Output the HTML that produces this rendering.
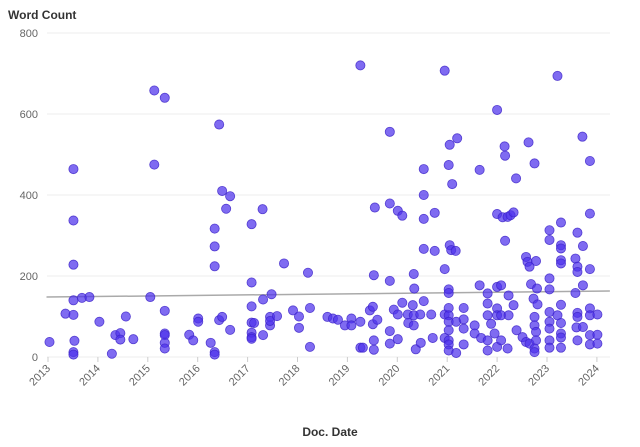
<!DOCTYPE html>
<html><head><meta charset="utf-8"><style>
html,body{margin:0;padding:0;background:#fff;}
svg{display:block;font-family:"Liberation Sans",sans-serif;}
</style></head><body>
<svg id="chart" width="640" height="447" viewBox="0 0 640 447">
<text x="8" y="19" font-size="12" font-weight="bold" fill="#333">Word Count</text>
<text x="330" y="436" font-size="12" font-weight="bold" fill="#333" text-anchor="middle">Doc. Date</text>
<g id="grid"></g><g id="yticks"></g><g id="xticks"></g><g id="trend"></g><g id="points"></g>
</svg>
<script>
const yTicks = [0,200,400,600,800];
const xTicks = [2013,2014,2015,2016,2017,2018,2019,2020,2021,2022,2023,2024];
const trendYears = [2012.97, 2024.26];
const trendValues = [148, 163];
const dates = [2013.03,2013.35,2013.51,2013.51,2013.51,2013.51,2013.51,2013.53,2013.51,2013.51,2013.68,2013.83,2014.03,2014.28,2014.35,2014.45,2014.45,2014.56,2014.71,2015.05,2015.13,2015.13,2015.34,2015.34,2015.34,2015.34,2015.34,2015.34,2015.83,2015.91,2016.01,2016.01,2016.26,2016.34,2016.34,2016.34,2016.34,2016.34,2016.43,2016.43,2016.49,2016.49,2016.57,2016.65,2016.65,2017.08,2017.08,2017.08,2017.08,2017.13,2017.08,2017.08,2017.08,2017.3,2017.31,2017.31,2017.48,2017.45,2017.45,2017.45,2017.59,2017.73,2017.91,2018.03,2018.03,2018.21,2018.25,2018.25,2018.6,
2018.71,2018.81,2018.95,2019.08,2019.08,2019.26,2019.26,2019.26,2019.31,2019.45,2019.51,2019.55,2019.53,2019.51,2019.6,2019.53,2019.53,2019.85,2019.85,2019.85,2019.85,2019.85,2019.93,2020.01,2020.1,2020.01,2020.1,2020.01,2020.21,2020.22,2020.31,2020.33,2020.34,2020.33,2020.33,2020.46,2020.37,2020.47,2020.53,2020.53,2020.53,2020.53,2020.53,2020.68,2020.71,2020.75,2020.75,2020.95,2020.95,2020.95,2020.95,2021.03,2021.05,2021.2,2021.1,2021.05,2021.08,2021.17,2021.03,2021.03,2021.03,2021.03,2021.03,2021.03,2021.03,2021.03,2021.03,2021.18,2021.18,2021.33,2021.33,2021.33,2021.33,2021.55,2021.55,2021.65,2021.65,2021.68,2021.81,2021.81,2021.81,2021.81,2021.81,2021.88,2021.95,2022.0,2022.0,2022.0,2022.0,2022.0,2022.0,2022.08,2022.08,2022.08,2022.15,2022.16,2022.11,2022.21,2022.27,2022.33,2022.16,2022.23,2022.23,2022.21,2022.33,2022.38,2022.39,2022.58,2022.61,2022.65,2022.78,2022.63,2022.75,2022.68,2022.73,2022.8,2022.81,2022.51,2022.58,2022.65,2022.75,2022.75,2022.78,2022.78,2022.75,2022.75,2023.05,2023.05,2023.05,2023.05,2023.05,2023.05,2023.05,2023.05,2023.05,2023.21,2023.28,2023.28,2023.28,2023.28,2023.28,2023.28,2023.21,2023.28,2023.28,2023.28,2023.28,2023.57,2023.61,2023.61,2023.61,2023.72,2023.72,2023.57,2023.61,2023.61,2023.59,2023.72,2023.61,2023.71,2023.86,2023.86,2023.86,2023.86,2023.86,2023.86,2023.86,2024.01,2024.01,2024.01];
const counts = [37,107,464,337,228,140,104,40,12,6,146,148,87,8,54,59,43,100,44,148,658,475,640,114,58,54,35,21,55,41,95,87,35,12,6,317,273,224,574,91,410,99,366,397,67,328,184,125,85,84,60,49,45,365,142,54,155,99,78,89,101,231,115,100,72,208,121,25,99,
95,92,78,95,78,87,720,23,23,115,124,369,202,81,92,41,18,556,379,188,64,33,117,361,349,105,134,44,105,84,128,205,169,103,78,105,19,35,464,400,341,267,138,105,47,356,262,707,217,105,47,474,524,540,427,276,264,262,167,158,121,103,87,66,41,31,16,10,87,121,93,70,31,78,58,177,462,47,157,132,103,41,16,82,58,610,353,173,120,103,25,177,103,41,520,497,345,346,350,357,287,152,103,21,128,441,66,247,235,223,237,530,478,180,144,169,130,49,37,33,99,78,62,41,21,12,313,289,194,167,111,87,70,41,23,694,332,276,268,239,231,129,103,84,58,48,23,243,223,210,307,274,177,158,109,99,73,74,41,544,484,354,217,120,103,54,31,105,55,33];

const NS="http://www.w3.org/2000/svg";
const X0=48, XPX=49.9, Y0=357, YPX=324/800;
function xScale(v){return X0+(v-2013)*XPX;}
function yScale(v){return Y0-v*YPX;}
function mk(tag,attrs,parent){const e=document.createElementNS(NS,tag);for(const k in attrs)e.setAttribute(k,attrs[k]);parent.appendChild(e);return e;}
const grid=document.getElementById('grid'),yt=document.getElementById('yticks'),xt=document.getElementById('xticks');
yTicks.forEach(t=>{
  const l=mk('line',{x1:47,x2:610,y1:yScale(t),y2:yScale(t),stroke:'#eeeeee','stroke-width':1},grid);
  
  
  const tx=mk('text',{x:38,y:yScale(t)+4,'font-size':11,fill:'#666','text-anchor':'end'},yt);
  tx.textContent=t;
  
  
});
xTicks.forEach(t=>{
  const x=xScale(t);
  const tk=mk('line',{x1:x,x2:x,y1:357,y2:362,stroke:'#ccc'},xt);
  
  
  const tx=mk('text',{x:x+3,y:369,'font-size':11,fill:'#666','text-anchor':'end',transform:'rotate(-45 '+(x+3)+' 369)'},xt);
  tx.textContent=t;
  
  
});
const tl=mk('line',{x1:xScale(trendYears[0]),x2:xScale(trendYears[1]),y1:yScale(trendValues[0]),y2:yScale(trendValues[1]),stroke:'#aaaaaa','stroke-width':1.5},document.getElementById('trend'));


const pg=document.getElementById('points');
dates.forEach((d,i)=>{
  const c=mk('circle',{cx:xScale(d),cy:yScale(counts[i]),r:4.6,fill:'rgba(78,50,235,0.72)',stroke:'rgba(60,35,200,0.8)','stroke-width':0.8},pg);
  
  
});
</script>
</body></html>
